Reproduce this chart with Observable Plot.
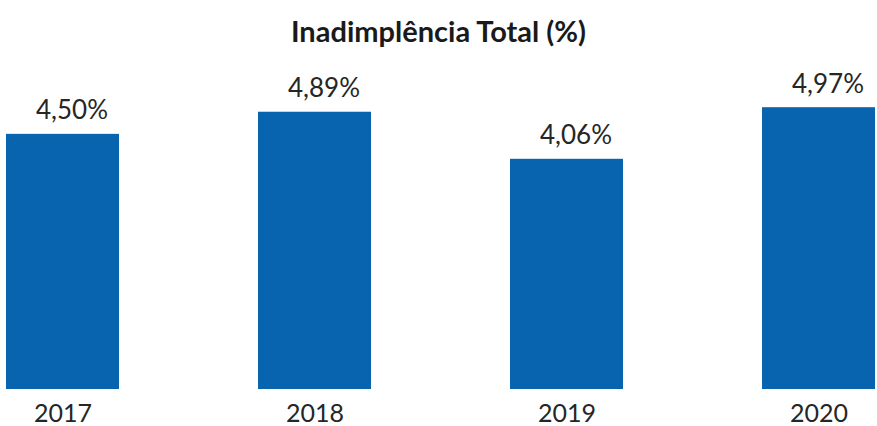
<!DOCTYPE html>
<html>
<head>
<meta charset="utf-8">
<script src="https://cdn.jsdelivr.net/npm/d3@7"></script>
<script src="https://cdn.jsdelivr.net/npm/@observablehq/plot@0.6"></script>
<style>
  html, body { margin: 0; padding: 0; background: #fff; overflow: hidden; }
  #title { height: 60px; line-height: 62px; text-align: center; font-family: Lato, sans-serif; font-weight: 700; font-size: 29px; color: #1a1a1a; }
  #chart svg { display: block; }
</style>
</head>
<body>
<div id="title">Inadimplência Total (%)</div>
<div id="chart"></div>
<script>
const years = ["2017", "2018", "2019", "2020"];
const values = [4.50, 4.89, 4.06, 4.97];
const labels = ["4,50%", "4,89%", "4,06%", "4,97%"];

const data = years.map((y, i) => ({year: y, value: values[i], label: labels[i]}));

const plot = Plot.plot({
  width: 877,
  height: 366,
  marginTop: 0,
  marginBottom: 37,
  marginLeft: 0,
  marginRight: 0,
  style: {fontFamily: "Lato, sans-serif", color: "#262626", background: "#fff"},
  x: {domain: years, range: [5.6, 874.6], paddingInner: 0.552, paddingOuter: 0, label: null},
  y: {domain: [0, 5], range: [329, 45.5], axis: null},
  marks: [
    Plot.barY(data, {x: "year", y: "value", fill: "#0864AF"}),
    Plot.text(data, {x: "year", y: "value", text: "label", lineAnchor: "bottom", dy: -15, dx: 9, fontSize: 26, fill: "#262626"}),
    Plot.axisX({tickSize: 0, tickPadding: 15, fontSize: 25, fill: "#262626"})
  ]
});
document.getElementById("chart").appendChild(plot);
</script>
</body>
</html>
